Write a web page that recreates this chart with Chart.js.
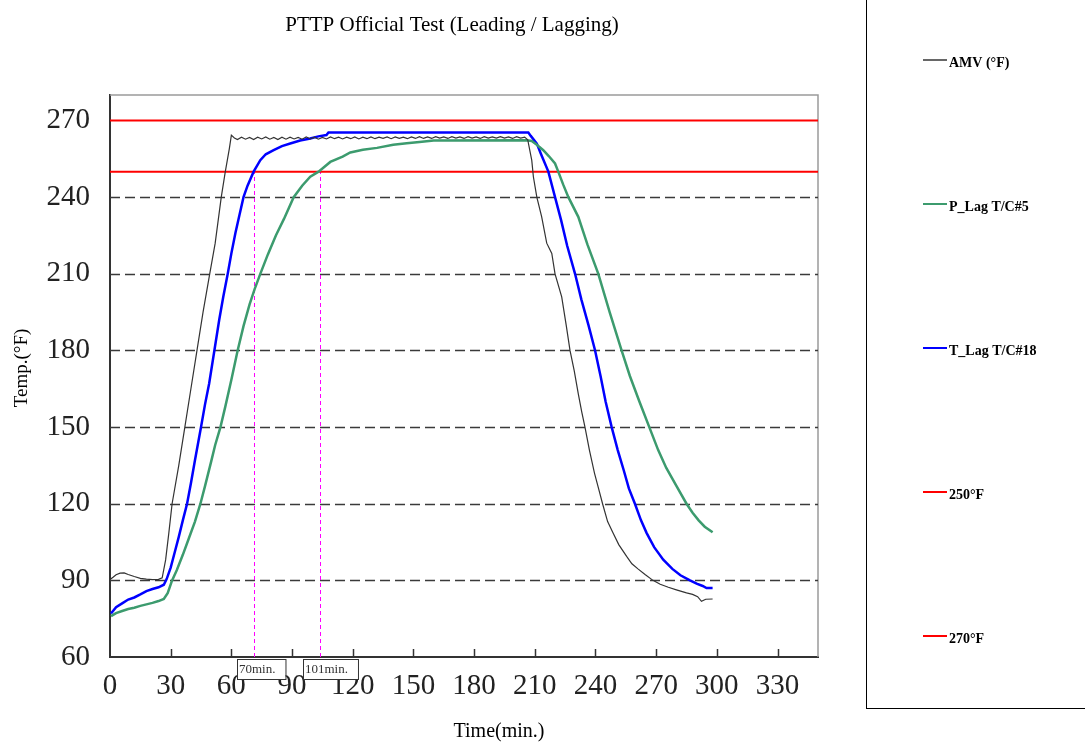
<!DOCTYPE html>
<html>
<head>
<meta charset="utf-8">
<title>PTTP Official Test (Leading / Lagging)</title>
<script src="https://cdn.jsdelivr.net/npm/chart.js@4.4.1/dist/chart.umd.min.js"></script>
<style>
  html, body { margin: 0; padding: 0; background: #fff; }
  #wrap { position: relative; width: 1085px; height: 743px; }
</style>
</head>
<body>
<div id="wrap"><canvas id="myChart" width="1085" height="743"></canvas></div>
<script>
// axis ticks
var xTicks = [0, 30, 60, 90, 120, 150, 180, 210, 240, 270, 300, 330];
var yTicks = [60, 90, 120, 150, 180, 210, 240, 270];
var yGridLines = [90, 120, 150, 180, 210, 240];

// AMV (°F)
var amvTime = [0, 1.5, 3, 5, 7, 9, 12, 15, 18, 21, 24, 25.8, 27.5, 29, 30.7, 34, 37, 40, 43, 46, 49.3, 52, 55, 57, 59, 60, 61.5,
    63, 65, 67, 69, 71, 73, 75, 77, 79, 81, 83, 85, 87, 89, 91, 93, 95, 97, 99, 101, 103, 105, 107, 109, 111, 113, 115, 117,
    119, 121, 123, 125, 127, 129, 131, 133, 135, 137, 139, 141, 143, 145, 147, 149, 151, 153, 155, 157, 159, 161, 163, 165,
    167, 169, 171, 173, 175, 177, 179, 181, 183, 185, 187, 189, 191, 193, 195, 197, 199, 201, 203, 205,
    206.5, 208.5, 209.3, 211, 213.4, 215.9, 218.4, 220, 223.3, 225.5, 227.4, 229.5, 231.5, 233.2, 234.8, 237, 239.5, 241.5,
    243.5, 246, 248.7, 251.5, 255.4, 258, 261, 264.5, 268.4, 272, 276, 280, 285, 288, 290.5, 292.4, 294.5, 297.9];
var amvTemp = [90.3, 91.2, 92.2, 92.8, 92.9, 92.3, 91.5, 90.8, 90.5, 90.3, 90.4, 91, 98, 108, 120, 135, 150, 165, 180, 195, 210, 222, 240, 250, 259, 264.3, 263.2,
    262.6, 263.5, 262.7, 263.4, 262.6, 263.5, 262.8, 263.6, 262.7, 263.4, 262.6, 263.5, 262.7, 263.5, 262.8, 263.4, 262.7, 263.6,
    262.8, 263.5, 262.7, 263.4, 262.8, 263.6, 262.9, 263.5, 262.8, 263.5, 262.9, 263.6, 262.8, 263.5, 262.9, 263.6, 262.9, 263.5,
    263.0, 263.6, 262.9, 263.6, 263.0, 263.5, 262.9, 263.6, 263.0, 263.7, 263.0, 263.6, 263.0, 263.7, 263.1, 263.6, 263.0, 263.7,
    263.1, 263.6, 263.0, 263.7, 263.1, 263.6, 263.0, 263.7, 263.1, 263.6, 263.1, 263.7, 263.1, 263.6, 263.0, 263.7, 263.1, 263.5,
    262.5, 254.4, 248, 240, 232.3, 222, 218, 210, 201, 190, 180, 172, 163, 156, 150, 141, 132, 126,
    120, 113, 108.5, 104, 99.4, 96.5, 94.5, 92.3, 90, 88.5, 87.3, 86.3, 85.1, 84.5, 83.6, 81.8, 82.6, 82.7];

// P_Lag T/C#5
var pLagTime = [0.5, 3, 6, 9, 12, 15, 18, 21, 24, 26.6, 28.5, 30.7, 33, 36, 39, 42, 44.7, 47, 50, 52, 54.6, 57, 60, 63.1, 66, 69,
    71.5, 74.3, 78, 82, 86, 90.8, 95, 99, 103.1, 108.9, 115, 118.8, 125, 132, 140, 146.7, 153, 160, 206, 208.5, 211, 214.2,
    217, 220, 221.6, 224, 226.6, 231.5, 236, 241.4, 247, 252.9, 257, 261.7, 266.6, 271, 275, 280, 285, 288, 291, 294, 297.9];
var pLagTemp = [76, 77.2, 78, 78.8, 79.3, 80, 80.6, 81.2, 81.9, 82.7, 85, 90, 94, 100, 106.5, 113, 120, 127, 136.5, 143, 150, 158, 168.5, 180, 189.5, 198,
    204, 210, 217.5, 225, 231.5, 240, 244.5, 248, 250, 253.8, 255.9, 257.5, 258.6, 259.3, 260.5, 261.1, 261.6, 262.2, 262.3, 262, 260.5, 258.4,
    256, 253.2, 250, 245, 240, 232.3, 221.5, 210, 195, 180, 170, 160, 150, 141, 134, 127, 120, 116.5, 113.5, 111, 108.8];

// T_Lag T/C#18
var tLagTime = [0.5, 3, 6, 9, 12, 15, 18, 21, 24, 26.6, 28, 30, 32, 34, 36, 38.1, 40, 42, 45, 47, 49, 51.6, 54, 56, 58.2, 60, 62,
    64, 66, 68, 71, 74.3, 77, 80.9, 85, 89.1, 94, 99, 103, 107, 108, 206.8, 208, 211, 213, 216.7, 220, 223, 226, 229.9, 233,
    236.5, 239.8, 242.5, 245, 248, 251, 254, 256.5, 259.5, 262.5, 265.3, 269, 273.5, 278, 282, 286.7, 290, 293, 294.9, 297.9];
var tLagTemp = [77, 79.5, 81, 82.5, 83.3, 84.5, 85.8, 86.6, 87.3, 88.3, 90.5, 95, 101, 107, 113.5, 120, 128, 137, 150, 159, 167, 180, 192, 201, 210, 218, 226,
    233, 240, 244.5, 250, 254.5, 256.8, 258.4, 260, 261, 262.2, 263, 263.8, 264.3, 265.3, 265.3, 264, 261, 257, 250, 240, 231, 221, 210, 200,
    190, 180, 170, 160, 150, 141, 133, 126, 120, 113.5, 108.5, 103, 98.1, 94.5, 92, 90, 88.7, 87.8, 87, 87];

// limit lines
var limitValues = [250, 270];
var limitLabels = ["250°F", "270°F"];

// 250°F crossing markers
var markerTimes = [71.4, 103.6];
var markerLabels = ["70min.", "101min."];

var FONT = "'Liberation Serif', 'Times New Roman', serif";

function toPoints(times, temps) {
    return times.map(function (t, i) { return { x: t, y: temps[i] }; });
}
function limitPoints(v) {
    return [{ x: 0, y: v }, { x: 350, y: v }];
}

var overlay = {
    id: "overlay",
    beforeDatasetsDraw: function (chart) {
        var ctx = chart.ctx, a = chart.chartArea;
        var xs = chart.scales.x, ys = chart.scales.y;
        ctx.save();
        // top / right frame
        ctx.strokeStyle = "#9a9a9a";
        ctx.lineWidth = 1.5;
        ctx.beginPath();
        ctx.moveTo(a.left, a.top);
        ctx.lineTo(a.right, a.top);
        ctx.lineTo(a.right, a.bottom);
        ctx.stroke();
        // dashed grid
        ctx.strokeStyle = "#3a3a3a";
        ctx.lineWidth = 1.3;
        ctx.setLineDash([10, 5]);
        yGridLines.forEach(function (v) {
            var y = Math.round(ys.getPixelForValue(v)) + 0.5;
            ctx.beginPath();
            ctx.moveTo(a.left, y);
            ctx.lineTo(a.right, y);
            ctx.stroke();
        });
        // marker lines
        ctx.strokeStyle = "#ff00ff";
        ctx.lineWidth = 1;
        ctx.setLineDash([4, 3]);
        markerTimes.forEach(function (t) {
            var x = Math.round(xs.getPixelForValue(t)) + 0.5;
            ctx.beginPath();
            ctx.moveTo(x, a.bottom);
            ctx.lineTo(x, ys.getPixelForValue(limitValues[0]));
            ctx.stroke();
        });
        ctx.restore();
    },
    afterDraw: function (chart) {
        var ctx = chart.ctx, a = chart.chartArea;
        var xs = chart.scales.x;
        ctx.save();
        // inward x ticks
        ctx.strokeStyle = "#333";
        ctx.lineWidth = 1.5;
        xTicks.forEach(function (v) {
            if (v === 0) return;
            var x = Math.round(xs.getPixelForValue(v)) + 0.5;
            ctx.beginPath();
            ctx.moveTo(x, a.bottom);
            ctx.lineTo(x, a.bottom - 8);
            ctx.stroke();
        });
        // marker labels
        ctx.font = "13px " + FONT;
        ctx.textBaseline = "middle";
        ctx.textAlign = "left";
        markerTimes.forEach(function (t, i) {
            var x = Math.round(xs.getPixelForValue(t)) - 17;
            var w = ctx.measureText(markerLabels[i]).width + 12;
            ctx.fillStyle = "#fff";
            ctx.fillRect(x, a.bottom + 2, w, 20);
            ctx.strokeStyle = "#333";
            ctx.lineWidth = 1;
            ctx.strokeRect(x + 0.5, a.bottom + 2.5, w, 20);
            ctx.fillStyle = "#333";
            ctx.fillText(markerLabels[i], x + 2, a.bottom + 13);
        });
        // title and axis titles
        ctx.fillStyle = "#000";
        ctx.textAlign = "center";
        ctx.font = "21px " + FONT;
        ctx.fillText("PTTP Official Test (Leading / Lagging)", 452, 25);
        ctx.font = "20px " + FONT;
        ctx.fillText("Time(min.)", 499, 732);
        ctx.save();
        ctx.translate(22, 368);
        ctx.rotate(-Math.PI / 2);
        ctx.font = "19px " + FONT;
        ctx.fillText("Temp.(°F)", 0, 0);
        ctx.restore();
        // legend box
        ctx.strokeStyle = "#000";
        ctx.lineWidth = 1;
        ctx.strokeRect(866.5, -2, 300, 710.5);
        ctx.font = "bold 14px " + FONT;
        ctx.textAlign = "left";
        ctx.textBaseline = "alphabetic";
        chart.data.datasets.forEach(function (ds, i) {
            var y = 60 + i * 144;
            ctx.strokeStyle = i === 0 ? "#000" : ds.borderColor;
            ctx.lineWidth = Math.min(ds.borderWidth, 2);
            ctx.beginPath();
            ctx.moveTo(923, y);
            ctx.lineTo(947, y);
            ctx.stroke();
            ctx.fillStyle = "#000";
            ctx.fillText(ds.label, 949, y + 7);
        });
        ctx.restore();
    }
};

document.addEventListener("DOMContentLoaded", function () {
    new Chart(document.getElementById("myChart"), {
        type: "line",
        data: {
            datasets: [
                { label: "AMV (°F)", data: toPoints(amvTime, amvTemp), borderColor: "#333333", borderWidth: 1.2 },
                { label: "P_Lag T/C#5", data: toPoints(pLagTime, pLagTemp), borderColor: "rgb(60,155,110)", borderWidth: 2.5 },
                { label: "T_Lag T/C#18", data: toPoints(tLagTime, tLagTemp), borderColor: "rgb(0,0,255)", borderWidth: 2.5 },
                { label: limitLabels[0], data: limitPoints(limitValues[0]), borderColor: "rgb(255,0,0)", borderWidth: 2 },
                { label: limitLabels[1], data: limitPoints(limitValues[1]), borderColor: "rgb(255,0,0)", borderWidth: 2 }
            ]
        },
        options: {
            responsive: false,
            animation: false,
            events: [],
            elements: { point: { radius: 0 }, line: { tension: 0 } },
            layout: { padding: { top: 95, right: 267, left: 0, bottom: 0 } },
            plugins: { legend: { display: false }, tooltip: { enabled: false }, title: { display: false } },
            scales: {
                x: {
                    type: "linear",
                    min: 0,
                    max: 350,
                    afterBuildTicks: function (s) { s.ticks = xTicks.map(function (v) { return { value: v }; }); },
                    afterFit: function (s) { s.height = 86; },
                    grid: { display: false, drawTicks: false },
                    border: { display: true, color: "#333", width: 2 },
                    ticks: { font: { family: FONT, size: 29 }, color: "#222", padding: 12, maxRotation: 0, autoSkip: false }
                },
                y: {
                    type: "linear",
                    min: 60,
                    max: 280,
                    afterBuildTicks: function (s) { s.ticks = yTicks.map(function (v) { return { value: v }; }); },
                    afterFit: function (s) { s.width = 110; },
                    grid: { display: false, drawTicks: false },
                    border: { display: true, color: "#333", width: 2 },
                    ticks: { font: { family: FONT, size: 29 }, color: "#222", padding: 20, autoSkip: false }
                }
            }
        },
        plugins: [overlay]
    });
});
</script>
</body>
</html>
